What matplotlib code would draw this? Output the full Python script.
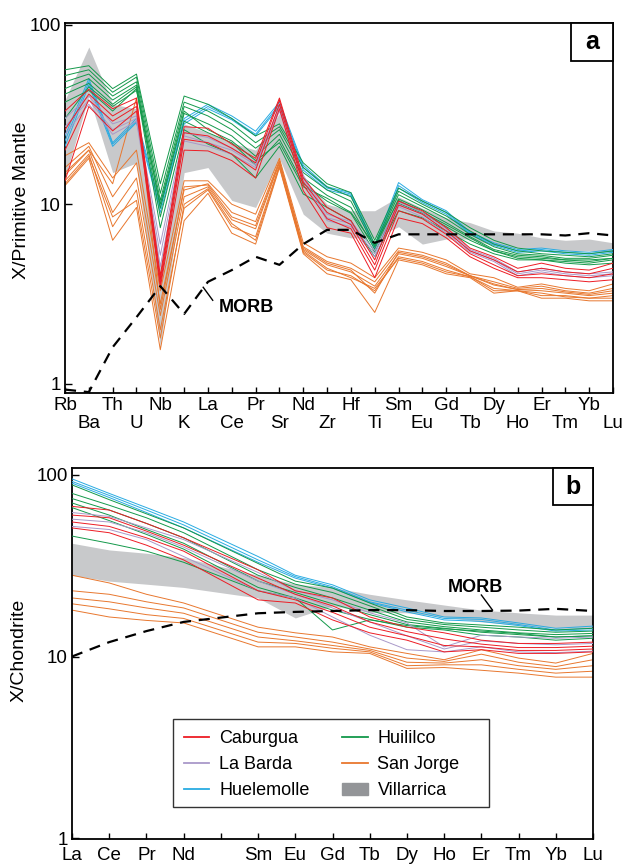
import numpy as np
import matplotlib.pyplot as plt
from matplotlib.lines import Line2D
from matplotlib.patches import Patch, Rectangle

plt.rcParams['font.family'] = ['Liberation Sans', 'DejaVu Sans']

# ---- (a) primitive-mantle normalised spider diagram ----
pm_elements = ['Rb', 'Ba', 'Th', 'U', 'Nb', 'K', 'La', 'Ce', 'Pr', 'Sr', 'Nd', 'Zr',
               'Hf', 'Ti', 'Sm', 'Eu', 'Gd', 'Tb', 'Dy', 'Ho', 'Er', 'Tm', 'Yb', 'Lu']

huililco_pm = [
    [56, 59, 44, 53, 13, 40, 36, 30, 24, 28, 17, 13, 11.6, 6.3, 12.3, 10.4, 9.0, 7.4, 6.3, 5.7, 5.5, 5.4, 5.3, 5.5],
    [52, 56, 42, 51, 11.5, 37, 33, 28, 22, 27, 16, 12.5, 11, 6.0, 11.8, 10, 8.6, 7.1, 6.0, 5.5, 5.3, 5.2, 5.1, 5.3],
    [48, 53, 40, 48, 10.5, 35, 31, 26, 20.5, 26, 15, 12, 10.4, 5.8, 11.3, 9.7, 8.3, 6.8, 5.8, 5.3, 5.2, 5.0, 5.0, 5.2],
    [44, 50, 38, 46, 9.5, 32, 28, 24, 18.5, 24.5, 14, 11.2, 9.6, 5.6, 10.7, 9.3, 7.9, 6.6, 5.6, 5.2, 5.1, 4.9, 4.9, 5.0],
    [41, 47, 36, 45, 8.5, 29, 25, 22, 16.5, 23, 13, 10.4, 8.9, 5.4, 10.1, 8.9, 7.5, 6.3, 5.5, 5.0, 4.9, 4.8, 4.7, 4.9],
    [37, 43, 33, 44, 7.4, 26, 21.6, 19, 14, 21, 11.4, 9.6, 8.1, 5.1, 9.2, 8.4, 7.1, 6.0, 5.3, 4.9, 4.9, 4.7, 4.6, 4.7],
    [30, 45, 35, 43, 10, 33, 26, 22.5, 17.5, 22, 12.5, 10.8, 9.0, 5.9, 10.5, 9.0, 7.7, 6.5, 5.5, 5.1, 5.0, 4.9, 4.8, 5.0],
]
san_jorge_pm = [
    [18.6, 22, 14, 20, 3.3, 13.5, 13.5, 10, 8.8, 18, 6.1, 5.1, 4.7, 3.9, 5.7, 5.4, 4.9, 4.1, 3.9, 3.45, 3.6, 3.4, 3.3, 3.6],
    [16, 21, 11, 17, 2.8, 12, 13, 9, 8, 17.5, 5.8, 4.8, 4.4, 3.7, 5.5, 5.2, 4.7, 4.0, 3.7, 3.4, 3.5, 3.3, 3.2, 3.4],
    [14.5, 20, 9, 14, 2.4, 11, 12.5, 8.2, 7.3, 17, 5.6, 4.6, 4.2, 3.5, 5.3, 5.0, 4.5, 4.0, 3.55, 3.35, 3.3, 3.2, 3.1, 3.2],
    [13.5, 19, 7.5, 12, 2.0, 9.5, 12, 7.5, 6.6, 16.5, 5.4, 4.3, 4.0, 3.3, 5.1, 4.8, 4.3, 3.95, 3.4, 3.3, 3.1, 3.1, 3.0, 3.0],
    [12.7, 18, 6.3, 9.6, 1.55, 8.1, 11.5, 6.9, 6.0, 16, 5.3, 4.1, 3.8, 2.5, 4.9, 4.6, 4.1, 3.9, 3.2, 3.3, 3.0, 3.0, 2.9, 2.9],
    [15, 20, 13, 39, 2.6, 12.5, 12.8, 8.5, 7.6, 17.2, 5.7, 4.7, 4.3, 3.2, 5.4, 5.1, 4.6, 4.0, 3.6, 3.35, 3.4, 3.25, 3.15, 3.3],
    [13, 18.5, 8.5, 10.5, 1.8, 10, 12.2, 7.8, 6.3, 16.2, 5.5, 4.4, 3.9, 3.4, 5.0, 4.7, 4.2, 3.95, 3.3, 3.3, 3.2, 3.05, 3.0, 3.1],
]
caburgua_pm = [
    [33, 43.6, 34, 39, 4.0, 27, 26.5, 21.6, 18, 39, 14, 9.6, 8.1, 4.9, 10.4, 9.2, 7.4, 5.7, 5.1, 4.4, 4.7, 4.4, 4.3, 4.7],
    [26, 41, 31, 37, 3.8, 25, 24, 20.5, 17, 38, 13.3, 9, 7.7, 4.6, 9.9, 8.8, 7.1, 5.5, 4.9, 4.2, 4.4, 4.2, 4.1, 4.4],
    [20, 38, 29, 35, 3.6, 23, 22, 19, 15.5, 36, 12.8, 8.3, 7.3, 4.3, 9.2, 8.3, 6.8, 5.3, 4.6, 4.0, 4.1, 4.0, 3.9, 4.1],
    [13.5, 35, 25.6, 33, 3.45, 20, 19.8, 17.5, 14, 34, 11.9, 7.4, 6.9, 3.9, 8.4, 7.8, 6.5, 5.1, 4.4, 3.9, 3.9, 3.8, 3.7, 3.8],
]
la_barda_pm = [
    [30, 40, 28, 31, 6.0, 25, 23.5, 20.5, 17, 35, 14.5, 8.8, 8.0, 5.5, 10.3, 9.0, 7.3, 5.6, 5.0, 4.2, 4.4, 4.2, 4.1, 4.2],
    [27, 38, 26, 30, 5.2, 24, 22, 20, 16.5, 34, 14, 8.4, 7.8, 5.3, 10, 8.8, 7.1, 5.5, 4.9, 4.1, 4.3, 4.1, 4.0, 4.1],
    [24.5, 36, 24.5, 29, 4.5, 22.5, 21, 19, 16, 33, 13.5, 8.1, 7.5, 5.1, 9.7, 8.5, 6.9, 5.4, 4.8, 4.0, 4.2, 4.0, 3.9, 4.0],
]
huelemolle_pm = [
    [24, 50, 22, 30, 10, 30, 36, 31, 25.5, 37, 16.5, 12.5, 11.6, 5.9, 13.2, 10.6, 9.2, 7.0, 6.1, 5.6, 5.7, 5.5, 5.4, 5.6],
    [22.5, 48, 21.6, 29, 9.5, 29, 35, 30, 24.5, 36, 16, 12.3, 11.4, 5.7, 12.7, 10.4, 9.0, 6.9, 6.0, 5.5, 5.6, 5.4, 5.3, 5.5],
    [21, 46, 21, 28.5, 9, 28, 34, 29.5, 24, 35, 15.5, 12, 11.2, 5.6, 12.3, 10.2, 8.8, 6.8, 5.9, 5.4, 5.5, 5.3, 5.2, 5.4],
]
villarrica_pm_lo = [14, 40, 15, 17, 1.6, 15, 16, 10.5, 9.6, 18, 8.8, 6.9, 6.5, 6.5, 7.5, 6.0, 6.4, 6.4, 5.9, 5.7, 5.7, 5.5, 5.5, 5.4]
villarrica_pm_hi = [38, 75, 36, 34, 4.5, 28, 25, 22, 20, 32, 14, 10, 9.2, 9.2, 11, 9.5, 8.4, 7.9, 7.1, 6.9, 6.5, 6.3, 6.4, 6.1]
morb_pm = [0.93, 0.9, 1.6, 2.35, 3.5, 2.45, 3.7, 4.3, 5.1, 4.6, 6.0, 7.2, 7.2, 6.1, 6.8, 6.8,
           6.8, 6.8, 6.8, 6.8, 6.8, 6.7, 6.9, 6.7]

# ---- (b) chondrite-normalised REE ----
ree_labels = ['La', 'Ce', 'Pr', 'Nd', '', 'Sm', 'Eu', 'Gd', 'Tb', 'Dy', 'Ho', 'Er', 'Tm', 'Yb', 'Lu']
ree_x = [0, 1, 2, 3, 5, 6, 7, 8, 9, 10, 11, 12, 13, 14]   # no Pm

huelemolle_ree = [
    [95, 79, 66, 55, 35.5, 28, 24.8, 20.5, 18.5, 16.5, 16.3, 15.3, 14.3, 14.7],
    [92, 77, 64, 53, 34, 27.5, 24.2, 20, 18, 16.2, 16, 15, 14, 14.3],
    [90, 75, 62, 51, 33, 27, 23.8, 19.8, 17.6, 15.9, 15.6, 14.8, 13.8, 14],
]
huililco_ree = [
    [88, 73, 61, 51, 32.5, 26, 23.8, 19.7, 16.5, 15.3, 14.9, 14.5, 14, 14.3],
    [79, 68, 58, 48, 30, 25, 22.5, 19, 16, 15, 14.5, 14, 13.6, 13.8],
    [74, 64, 54, 45, 28, 24, 21, 18, 15.5, 14.6, 14, 13.5, 13.2, 13.4],
    [70, 60, 50, 42, 26, 22.5, 19.5, 17, 15, 14.3, 13.6, 13.2, 12.8, 13],
    [66, 56, 47, 39, 24, 21, 18, 16, 14.5, 14, 13.1, 12.8, 12.3, 12.6],
    [46, 42, 38, 33, 23, 21, 14, 15.9, 14.8, 14.2, 13.8, 13.4, 12.8, 13],
]
caburgua_ree = [
    [67, 64, 54, 45, 30, 23, 21, 16.5, 14.5, 13.5, 12.3, 11.8, 11.8, 12],
    [60, 58, 49, 41, 27, 22, 19, 15.5, 13.7, 12.5, 11.7, 11.2, 11.2, 11.4],
    [55, 52, 45, 38, 23, 20.5, 17.5, 14.5, 13, 11.5, 11.3, 10.8, 10.8, 11],
    [51, 48, 41, 34, 20.5, 19.7, 15.9, 13.5, 12.3, 10.6, 10.9, 10.4, 10.4, 10.6],
]
la_barda_ree = [
    [62, 59, 51, 44, 29, 23, 20.5, 17.4, 15.3, 11.3, 13.1, 12.8, 12.6, 12.8],
    [57, 55, 48, 40, 26, 22, 18.5, 15.5, 13, 11, 12.2, 11.8, 11.6, 11.8],
    [52, 50, 44, 35.5, 23, 21, 16.5, 13.1, 10.9, 10.6, 11.3, 10.6, 10.5, 10.7],
]
san_jorge_ree = [
    [28, 25.4, 22, 19.7, 14.5, 13.5, 12.8, 11.3, 10.4, 9.6, 10.9, 9.8, 9.2, 10.4],
    [23, 22, 20, 18.5, 13.6, 12.8, 12, 11, 9.8, 9.4, 10.3, 9.3, 8.8, 9.6],
    [21, 20, 18.5, 17.3, 12.8, 12.2, 11.5, 10.8, 9.3, 9.2, 9.6, 8.9, 8.5, 8.9],
    [19.5, 18.3, 17, 16.2, 12, 11.8, 11.1, 10.6, 8.9, 9.0, 9.0, 8.5, 8.1, 8.3],
    [18, 16.5, 15.8, 15.3, 11.3, 11.3, 10.6, 10.4, 8.6, 8.7, 8.4, 8.1, 7.7, 7.7],
]
villarrica_ree_lo = [28, 26, 25, 24, 21, 16.3, 19, 17.5, 17.4, 16.5, 15.5, 14.9, 14.3, 14.3]
villarrica_ree_hi = [42, 38.6, 37, 35, 28, 25, 24, 22, 20.5, 19.2, 18, 17.4, 16.9, 16.9]
morb_ree = [10, 12, 13.8, 15.5, 17.3, 17.6, 17.8, 18, 18, 17.8, 17.8, 17.9, 18.3, 17.8]

c_cab = '#ed1c24'
c_lab = '#a999c9'
c_hue = '#29abe2'
c_hui = '#13994a'
c_sj = '#e8772e'
c_vil = '#c8c9cb'


def draw_group(ax, x, rows, color, z):
    for row in rows:
        ax.plot(x, row, color=color, lw=0.7, zorder=z)


def tag_box(ax, x0, y0, w, h, letter):
    ax.add_patch(Rectangle((x0, y0), w, h, transform=ax.transAxes, facecolor='white',
                           edgecolor='black', lw=1.3, zorder=10, clip_on=False))
    ax.text(x0 + w / 2, y0 + h / 2, letter, transform=ax.transAxes, ha='center', va='center',
            fontsize=18, fontweight='bold', zorder=11)


fig = plt.figure(figsize=(6.3, 8.66), dpi=100)
ax1 = fig.add_axes([65 / 630, 1 - 393 / 866, (613 - 65) / 630, (393 - 23) / 866])
ax2 = fig.add_axes([72 / 630, 1 - 839 / 866, (593 - 72) / 630, (839 - 468) / 866])

# panel a
xpm = np.arange(len(pm_elements))
ax1.fill_between(xpm, villarrica_pm_lo, villarrica_pm_hi, color=c_vil, lw=0, zorder=1)
draw_group(ax1, xpm, san_jorge_pm, c_sj, 2)
draw_group(ax1, xpm, huelemolle_pm, c_hue, 3)
draw_group(ax1, xpm, huililco_pm, c_hui, 4)
draw_group(ax1, xpm, la_barda_pm, c_lab, 5)
draw_group(ax1, xpm, caburgua_pm, c_cab, 6)
ax1.plot(xpm, morb_pm, color='black', lw=1.6, dashes=(5, 3.5), zorder=7)

ax1.set_yscale('log')
ax1.set_xlim(0, 23)
ax1.set_ylim(0.89, 102)
ax1.set_yticks([1, 10, 100], labels=['1', '10', '100'])
ax1.yaxis.set_minor_locator(plt.NullLocator())
ax1.set_xticks(xpm[0::2], labels=pm_elements[0::2])
ax1.set_xticks(xpm[1::2], labels=pm_elements[1::2], minor=True)
ax1.tick_params(axis='x', which='both', direction='in', length=4, width=1, labelsize=13.5)
ax1.tick_params(axis='x', which='major', pad=3)
ax1.tick_params(axis='x', which='minor', pad=16)
ax1.tick_params(axis='y', direction='in', length=5, width=1, labelsize=13.5, pad=3)
for s in ax1.spines.values():
    s.set_linewidth(1.3)
fig.text(22 / 630, 1 - 200 / 866, 'X/Primitive Mantle', rotation=90, ha='center', va='center',
         fontsize=14)
ax1.text(6.45, 2.67, 'MORB', fontsize=13, fontweight='bold', ha='left', va='center', zorder=8)
ax1.plot([5.8, 6.2], [3.45, 2.92], color='black', lw=1, zorder=8)
tag_box(ax1, 0.923, 0.897, 0.077, 0.103, 'a')

# panel b
ax2.fill_between(ree_x, villarrica_ree_lo, villarrica_ree_hi, color=c_vil, lw=0, zorder=1)
draw_group(ax2, ree_x, san_jorge_ree, c_sj, 2)
draw_group(ax2, ree_x, huelemolle_ree, c_hue, 3)
draw_group(ax2, ree_x, huililco_ree, c_hui, 4)
draw_group(ax2, ree_x, la_barda_ree, c_lab, 5)
draw_group(ax2, ree_x, caburgua_ree, c_cab, 6)
ax2.plot(ree_x, morb_ree, color='black', lw=1.6, dashes=(5, 3.5), zorder=7)

ax2.set_yscale('log')
ax2.set_xlim(0, 14)
ax2.set_ylim(0.99, 109)
ax2.set_yticks([1, 10, 100], labels=['1', '10', '100'])
ax2.yaxis.set_minor_locator(plt.NullLocator())
ax2.set_xticks(range(len(ree_labels)), labels=ree_labels)
ax2.tick_params(axis='x', direction='in', length=4, width=1, labelsize=13.5, pad=6)
ax2.tick_params(axis='y', direction='in', length=5, width=1, labelsize=13.5, pad=3)
for s in ax2.spines.values():
    s.set_linewidth(1.3)
fig.text(19 / 630, 1 - 650 / 866, 'X/Chondrite', rotation=90, ha='center', va='center',
         fontsize=14)
ax2.text(10.1, 24, 'MORB', fontsize=13, fontweight='bold', ha='left', va='center', zorder=8)
ax2.plot([11.0, 11.3], [21.8, 18.0], color='black', lw=1, zorder=8)
tag_box(ax2, 0.923, 0.9, 0.077, 0.1, 'b')

# legend
handles = [Line2D([], [], color=c_cab, lw=1.3), Line2D([], [], color=c_lab, lw=1.3),
           Line2D([], [], color=c_hue, lw=1.3), Line2D([], [], color=c_hui, lw=1.3),
           Line2D([], [], color=c_sj, lw=1.3), Patch(color='#939598')]
names = ['Caburgua', 'La Barda', 'Huelemolle', 'Huililco', 'San Jorge', 'Villarrica']
box = Rectangle((173 / 630, 1 - 807 / 866), (489 - 173) / 630, 88 / 866,
                transform=fig.transFigure, facecolor='white', edgecolor='#333333', lw=1.0)
box.set_zorder(1)
fig.patches.append(box)
leg = fig.legend(handles, names, ncol=2, loc='upper left',
                 bbox_to_anchor=(173 / 630, 1 - 719 / 866), borderaxespad=0,
                 frameon=False, fontsize=13, handlelength=1.4, handletextpad=0.55,
                 columnspacing=1.8, labelspacing=0.5, borderpad=0.62)
leg.set_zorder(2)

fig.savefig('out.png', dpi=100)
